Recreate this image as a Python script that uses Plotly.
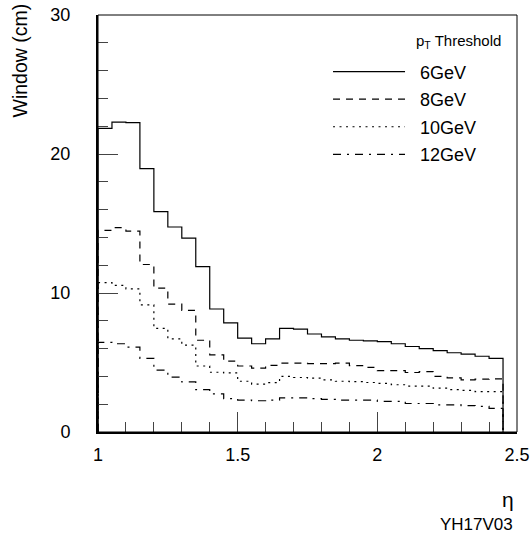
import plotly.graph_objects as go

# bin edges in eta (29 bins of 0.05 from 1.00 to 2.45)
eta_edges = [1.00, 1.05, 1.10, 1.15, 1.20, 1.25, 1.30, 1.35, 1.40, 1.45,
             1.50, 1.55, 1.60, 1.65, 1.70, 1.75, 1.80, 1.85, 1.90, 1.95,
             2.00, 2.05, 2.10, 2.15, 2.20, 2.25, 2.30, 2.35, 2.40, 2.45]

series_names = ["6GeV", "8GeV", "10GeV", "12GeV"]

win_6gev = [21.85, 22.3, 22.25, 18.95, 15.85, 14.75, 13.95, 11.9, 8.85, 7.85,
            6.75, 6.35, 6.7, 7.45, 7.4, 7.05, 6.85, 6.7, 6.6, 6.55,
            6.5, 6.35, 6.15, 6.0, 5.85, 5.7, 5.6, 5.45, 5.3]
win_8gev = [14.5, 14.7, 14.45, 12.05, 10.35, 9.2, 8.75, 6.6, 5.55, 5.1,
            4.75, 4.6, 4.8, 4.95, 4.95, 4.92, 4.92, 4.95, 4.78, 4.65,
            4.42, 4.42, 4.28, 4.35, 4.0, 3.9, 3.75, 3.8, 3.82]
win_10gev = [10.75, 10.55, 10.3, 9.15, 7.45, 6.7, 6.25, 4.75, 4.3, 4.25,
             3.65, 3.45, 3.55, 4.0, 3.92, 3.87, 3.75, 3.65, 3.63, 3.56,
             3.5, 3.4, 3.3, 3.3, 3.15, 3.05, 3.0, 2.9, 2.9]
win_12gev = [6.45, 6.35, 6.1, 5.3, 4.45, 3.95, 3.6, 3.05, 2.75, 2.4,
             2.3, 2.25, 2.3, 2.45, 2.45, 2.4, 2.35, 2.3, 2.3, 2.3,
             2.2, 2.2, 2.05, 2.05, 1.95, 1.95, 1.9, 1.85, 1.7]

x_ticks = [1, 1.5, 2, 2.5]
x_ticktext = ["1", "1.5", "2", "2.5"]
y_ticks = [0, 10, 20, 30]
y_ticktext = ["0", "10", "20", "30"]

dashes = ["solid", "7px,6px", "2px,4.5px", "8px,6px,2px,6px"]
FONT = "Liberation Sans, Arial, Helvetica, sans-serif"
NBSP = "\u00a0\u00a0"


def step_xy(edges, vals):
    x = [edges[0]] + list(edges[:-1]) + [edges[-1], edges[-1]]
    y = [0] + list(vals) + [vals[-1], 0]
    return x, y


fig = go.Figure()
for name, vals, dash in zip(series_names, [win_6gev, win_8gev, win_10gev, win_12gev], dashes):
    x, y = step_xy(eta_edges, vals)
    fig.add_trace(go.Scatter(x=x, y=y, mode="lines", name=NBSP + name, legendgroup=name,
                             line=dict(shape="hv", color="black", width=1.2, dash=dash)))

axis_common = dict(showgrid=False, zeroline=False, showline=True, linecolor="black",
                   linewidth=2, ticks="inside", tickcolor="#444", tickwidth=1,
                   ticklen=20, automargin=False,
                   tickfont=dict(family=FONT, size=18, color="black"))

fig.update_xaxes(range=[1, 2.5], tickvals=x_ticks, ticktext=x_ticktext,
                 minor=dict(ticks="inside", dtick=0.1, tick0=1, ticklen=10,
                            tickcolor="#444", tickwidth=1),
                 ticklabelstandoff=5, **axis_common)
fig.update_yaxes(range=[0, 30], tickvals=y_ticks, ticktext=y_ticktext,
                 minor=dict(ticks="inside", dtick=2, tick0=0, ticklen=10,
                            tickcolor="#444", tickwidth=1),
                 ticklabelstandoff=22, **axis_common)

fig.add_shape(type="rect", xref="paper", yref="paper", x0=0, x1=1, y0=0, y1=1,
              line=dict(color="black", width=1), layer="above")

fig.add_annotation(text="Window (cm)", xref="paper", yref="paper", x=-0.185, y=0.892,
                   textangle=-90, showarrow=False, xanchor="center", yanchor="middle",
                   font=dict(family=FONT, size=19.5, color="black"))
fig.add_annotation(text="η", xref="paper", yref="paper", x=0.978, y=-0.163,
                   showarrow=False, xanchor="center", yanchor="middle",
                   font=dict(family=FONT, size=21, color="black"))
fig.add_annotation(text="YH17V03", xref="paper", yref="paper", x=0.996, y=-0.221,
                   showarrow=False, xanchor="right", yanchor="middle",
                   font=dict(family=FONT, size=17, color="black"))
fig.add_annotation(text="p<sub>T</sub> Threshold", xref="paper", yref="paper", x=0.966, y=0.937,
                   showarrow=False, xanchor="right", yanchor="middle",
                   font=dict(family=FONT, size=15, color="black"))

fig.update_layout(
    width=531, height=536,
    margin=dict(l=98, r=14, t=15, b=104),
    paper_bgcolor="white", plot_bgcolor="white",
    showlegend=True,
    legend=dict(x=0.549, y=0.908, xanchor="left", yanchor="top",
                bgcolor="rgba(0,0,0,0)", borderwidth=0, itemwidth=72,
                tracegroupgap=1.2,
                font=dict(family=FONT, size=18, color="black")),
)

fig.write_html("out.html")
